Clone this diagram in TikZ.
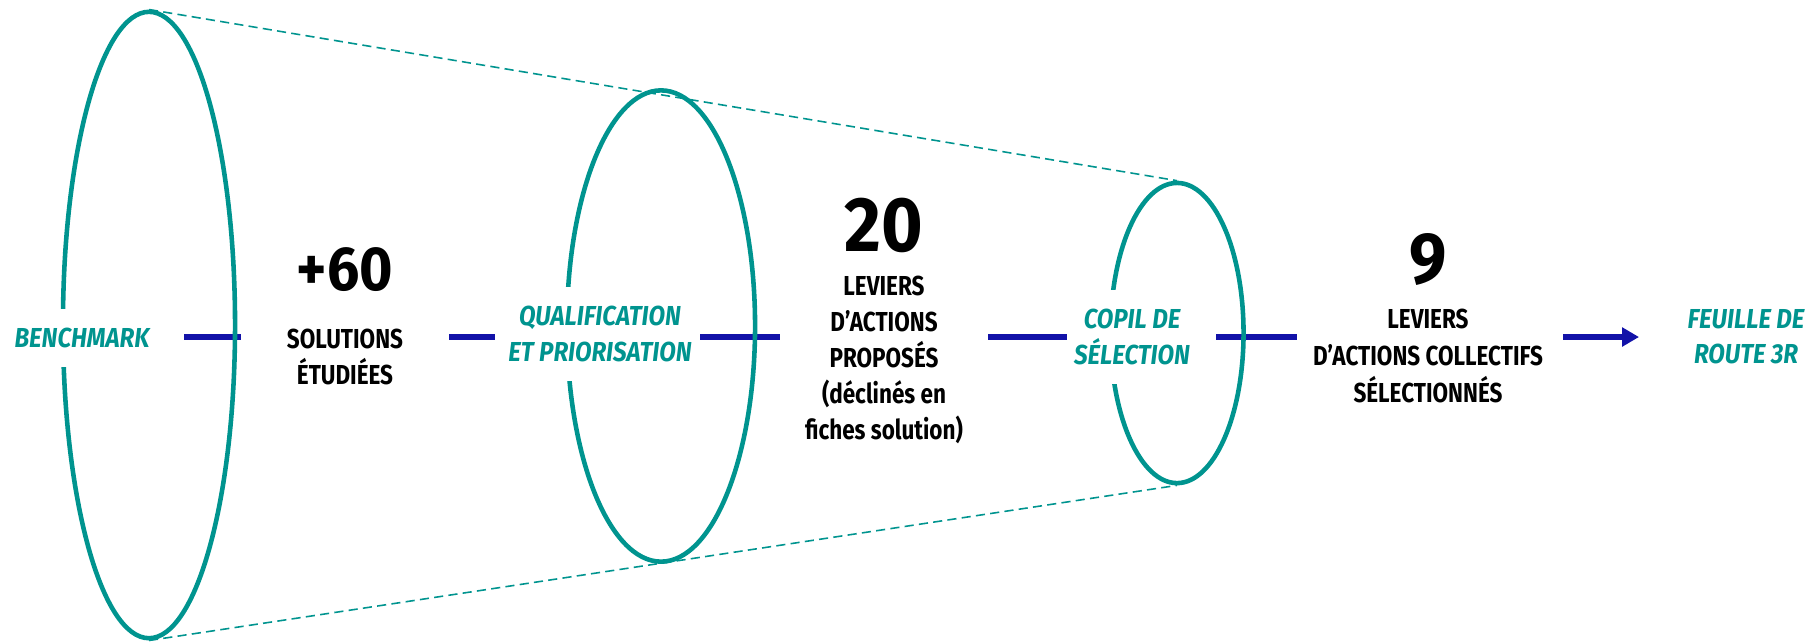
\documentclass[tikz,border=0pt]{standalone}
\usepackage{fontspec}
\setmainfont{Fira Sans}[FakeStretch=0.82]
\newfontfamily\stagefont{Fira Sans}[FakeStretch=0.88]
\newfontfamily\figfont{Fira Sans}[FakeStretch=0.92]
\usetikzlibrary{arrows.meta,positioning}
\usetikzlibrary{shapes.geometric}
\definecolor{teal3r}{RGB}{0,148,143}
\definecolor{blue3r}{RGB}{18,18,168}
\tikzset {
  % funnel ring
  ring/.style = {
    draw = teal3r,
    ellipse,
    line width = 1.3pt,
    inner sep = 0
  },
  % dashed outline of the funnel
  hull/.style = {
    draw = teal3r,
    line width = .45pt,
    dash pattern = on 2.6pt off 1.5pt
  },
  % blue flow segment
  flow/.style = {
    draw = blue3r,
    line width = 1.8pt
  },
  % step name, masks the ring behind it
  stage/.style = {
    text = teal3r,
    fill = white,
    align = center,
    inner xsep = 2pt,
    inner ysep = 5.5pt,
    font = \stagefont\fontsize{7.8}{10}\selectfont\bfseries\itshape
  },
  % big figure
  figure/.style = {
    inner sep = 0,
    font = \figfont\bfseries
  },
  % text under a figure
  caption/.style = {
    align = center,
    inner sep = 0,
    font = \fontsize{7.8}{10.5}\selectfont\bfseries
  }
}

\begin{document}
\begin{tikzpicture}[x=0.01cm,y=-0.01cm]
    \useasboundingbox (0,0) rectangle (1816,641);

    % segment ends
    \coordinate (bench-a) at (184,337);
    \coordinate (bench-b) at (241,337);
    \coordinate (sol-a) at (449,337);
    \coordinate (sol-b) at (495,337);
    \coordinate (qual-a) at (700,337);
    \coordinate (qual-b) at (780,337);
    \coordinate (lev-a) at (988,337);
    \coordinate (lev-b) at (1067,337);
    \coordinate (copil-a) at (1216,337);
    \coordinate (copil-b) at (1297,337);
    \coordinate (out-a) at (1563,337);
    \coordinate (out-b) at (1639,337);

    % flow line
    \draw[flow] (bench-a) -- (bench-b);
    \draw[flow] (sol-a) -- (sol-b);
    \draw[flow] (qual-a) -- (qual-b);
    \draw[flow] (lev-a) -- (lev-b);
    \draw[flow] (copil-a) -- (copil-b);
    \draw[flow, -{Triangle[length=4.8pt,width=5.2pt]}] (out-a) -- (out-b);

    % funnel rings
    \node[ring, minimum width=1.72cm, minimum height=6.26cm] (ring bench) at (149,325) {};
    \node[ring, minimum width=1.88cm, minimum height=4.71cm] (ring qual) at (661,326) {};
    \node[ring, minimum width=1.33cm, minimum height=3.0cm] (ring copil) at (1177,333) {};

    % funnel outline
    \draw[hull] (ring bench.north) -- (ring copil.north);
    \draw[hull] (ring bench.south) -- (ring copil.south);

    % stages
    \node[stage] (bench) at (82,338) {BENCHMARK};
    \node[stage] (qual) at (600,334) {QUALIFICATION\\ET PRIORISATION};
    \node[stage] (copil) at (1132,337) {COPIL DE\\SÉLECTION};
    \node[stage] (feuille) at (1746,337) {FEUILLE DE\\ROUTE 3R};

    % figures
    \node[figure, font=\figfont\bfseries\fontsize{17.7}{18}\selectfont] (n60) at (345,270) {+60};
    \node[caption] (sol60) at (345,357) {SOLUTIONS\\ÉTUDIÉES};

    \node[figure, font=\figfont\bfseries\fontsize{22}{22}\selectfont] (n20) at (884,225) {20};
    \node[caption, font=\fontsize{7.8}{10.2}\selectfont\bfseries] (lev20) at (884,360) {LEVIERS\\D’ACTIONS\\PROPOSÉS\\(déclinés en\\fiches solution)};

    \node[figure, font=\figfont\bfseries\fontsize{20.6}{21}\selectfont] (n9) at (1428,260) {9};
    \node[caption] (lev9) at (1428,356) {LEVIERS\\D’ACTIONS COLLECTIFS\\SÉLECTIONNÉS};
  \end{tikzpicture}
\end{document}
